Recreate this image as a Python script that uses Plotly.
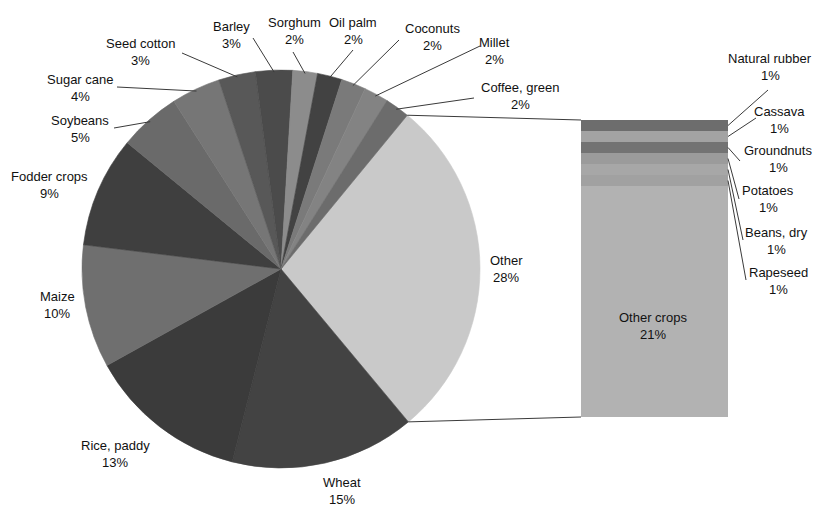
import math
import plotly.graph_objects as go

W, H = 822, 511

# Main pie: crop shares (%), clockwise starting with the aggregated "Other" slice
pie_labels = ["Other", "Wheat", "Rice, paddy", "Maize", "Fodder crops", "Soybeans",
              "Sugar cane", "Seed cotton", "Barley", "Sorghum", "Oil palm",
              "Coconuts", "Millet", "Coffee, green"]
pie_values = [28, 15, 13, 10, 9, 5, 4, 3, 3, 2, 2, 2, 2, 2]
pie_colors = ["#c9c9c9", "#434343", "#3b3b3b", "#6f6f6f", "#3f3f3f", "#6a6a6a",
              "#767676", "#585858", "#4b4b4b", "#8c8c8c", "#424242",
              "#7a7a7a", "#838383", "#6c6c6c"]

# Breakdown of "Other" shown as a stacked bar (top to bottom)
bar_labels = ["Natural rubber", "Cassava", "Groundnuts", "Potatoes", "Beans, dry",
              "Rapeseed", "Other crops"]
bar_values = [1, 1, 1, 1, 1, 1, 21]
bar_colors = ["#6d6d6d", "#a3a3a3", "#737373", "#9b9b9b", "#a7a7a7",
              "#a1a1a1", "#b2b2b2"]

# Geometry (pixels)
CX, CY, R = 281, 269, 199
START = 39.4
BAR_L, BAR_R, BAR_T, BAR_B = 581, 728, 120, 417

FONT = dict(family="Liberation Sans, Arial, sans-serif", size=13, color="#111111")
LINE = dict(color="#3a3a3a", width=1)


def px(x):
    return x / W


def py(y):
    return 1 - y / H


def rim(angle_deg, r=R):
    a = math.radians(angle_deg)
    return CX + r * math.sin(a), CY - r * math.cos(a)


# mid angle of each slice (clockwise from 12 o'clock)
total = sum(pie_values)
mid_angle = {}
acc = 0
for lab, v in zip(pie_labels, pie_values):
    mid_angle[lab] = START + (acc + v / 2) / total * 360
    acc += v
other_end = START + pie_values[0] / total * 360

# label centres and leader-line start points
pie_label_pos = {
    "Other": (506, 269, None),
    "Wheat": (342, 491, None),
    "Rice, paddy": (115, 454, None),
    "Maize": (57, 305, None),
    "Fodder crops": (49, 185, None),
    "Soybeans": (80, 129, (114, 128)),
    "Sugar cane": (80, 88, (117, 87)),
    "Seed cotton": (140, 52, (182, 53)),
    "Barley": (231, 35, (253, 38)),
    "Sorghum": (294, 31, (293, 52)),
    "Oil palm": (353, 31, (353, 50)),
    "Coconuts": (432, 37, (399, 40)),
    "Millet": (494, 51, (480, 46)),
    "Coffee, green": (520, 96, (474, 98)),
}

bar_label_pos = {
    "Natural rubber": (770, 67, (768, 90)),
    "Cassava": (779, 120, (756, 118)),
    "Groundnuts": (778, 159, (740, 161)),
    "Potatoes": (768, 199, (739, 199)),
    "Beans, dry": (776, 241, (743, 240)),
    "Rapeseed": (778, 281, (746, 280)),
}

fig = go.Figure()

fig.add_trace(go.Pie(
    labels=pie_labels, values=pie_values, sort=False, direction="clockwise",
    rotation=START, textinfo="none", hoverinfo="label+percent",
    marker=dict(colors=pie_colors, line=dict(width=0.6, color=pie_colors)),
    domain=dict(x=[px(CX - R), px(CX + R)], y=[py(CY + R), py(CY - R)]),
    showlegend=False,
))

for lab, v, c in zip(bar_labels, bar_values, bar_colors):
    fig.add_trace(go.Bar(
        x=["Other"], y=[v], name=lab, marker=dict(color=c, line=dict(width=0)),
        xaxis="x2", yaxis="y2", showlegend=False, hoverinfo="name+y",
    ))

shapes = []
annotations = []


def add_label(name, value, x, y):
    annotations.append(dict(x=px(x), y=py(y - 8.5), xref="paper", yref="paper",
                            text=name, showarrow=False, font=FONT,
                            xanchor="center", yanchor="middle"))
    annotations.append(dict(x=px(x), y=py(y + 8.5), xref="paper", yref="paper",
                            text=f"{value}%", showarrow=False, font=FONT,
                            xanchor="center", yanchor="middle"))


def add_line(x0, y0, x1, y1):
    shapes.append(dict(type="line", xref="paper", yref="paper",
                       x0=px(x0), y0=py(y0), x1=px(x1), y1=py(y1), line=LINE))


for lab, v in zip(pie_labels, pie_values):
    x, y, lead = pie_label_pos[lab]
    add_label(lab, v, x, y)
    if lead is not None:
        ex, ey = rim(mid_angle[lab], R - 2)
        add_line(lead[0], lead[1], ex, ey)

# bar segment labels
btotal = sum(bar_values)
acc = 0
for lab, v in zip(bar_labels, bar_values):
    ymid = BAR_T + (acc + v / 2) / btotal * (BAR_B - BAR_T)
    acc += v
    if lab in bar_label_pos:
        x, y, lead = bar_label_pos[lab]
        add_label(lab, v, x, y)
        add_line(BAR_R, ymid, lead[0], lead[1])
    else:
        add_label(lab, v, 653, 326)

# connectors from the "Other" slice to the bar
ux, uy = rim(START)
lx, ly = rim(other_end)
add_line(ux, uy, BAR_L, BAR_T)
add_line(lx, ly, BAR_L, BAR_B)

fig.update_layout(
    width=W, height=H, autosize=False,
    margin=dict(l=0, r=0, t=0, b=0),
    paper_bgcolor="white", plot_bgcolor="white",
    barmode="stack", bargap=0,
    xaxis2=dict(domain=[px(BAR_L), px(BAR_R)], anchor="y2", visible=False,
                range=[-0.5, 0.5], fixedrange=True),
    yaxis2=dict(domain=[py(BAR_B), py(BAR_T)], anchor="x2", visible=False,
                range=[btotal, 0], fixedrange=True),
    shapes=shapes, annotations=annotations,
)

fig.write_html("out.html")
